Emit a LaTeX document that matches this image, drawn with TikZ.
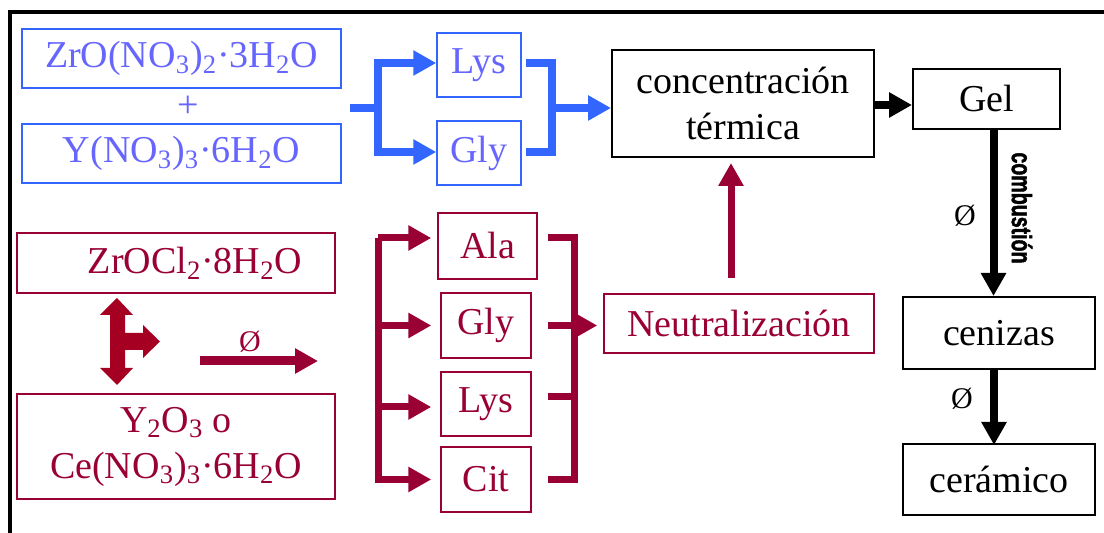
\documentclass[tikz,border=0pt]{standalone}
\usepackage{fontspec}
\setmainfont{Liberation Serif}
\newfontfamily\combfont[FakeStretch=0.7, FakeBold=1.5]{Liberation Sans}
\usetikzlibrary{arrows.meta, positioning}
\definecolor{arrblue}{RGB}{51,102,255}
\definecolor{txtblue}{RGB}{102,102,255}
\definecolor{crim}{RGB}{153,0,51}
\definecolor{crimbright}{RGB}{165,0,33}

\begin{document}
\begin{tikzpicture}[x=0.5pt, y=-0.5pt, font=\fontsize{19}{23}\selectfont]
    \tikzstyle{bluebox} = [rectangle, draw=arrblue, line width=0.75pt, text=txtblue, inner sep=0pt, align=center]
    \tikzstyle{redbox} = [rectangle, draw=crim, line width=0.75pt, text=crim, inner sep=0pt, align=center]
    \tikzstyle{blackbox} = [rectangle, draw=black, line width=1pt, inner sep=0pt, align=center]
    \tikzstyle{bluearrow} = [draw=arrblue, line width=4pt, -{Triangle[length=11.5pt,width=12pt]}]
    \tikzstyle{blueline} = [draw=arrblue, line width=4pt]
    \tikzstyle{redarrow} = [draw=crim, line width=3.5pt, -{Triangle[length=11.5pt,width=12pt]}]
    \tikzstyle{redline} = [draw=crim, line width=3.5pt]
    \tikzstyle{blackarrow} = [draw=black, line width=4pt, -{Triangle[length=11.5pt,width=12pt]}]
    \tikzstyle{phi} = [inner sep=0pt, font=\fontsize{15}{15}\selectfont]

    \useasboundingbox (0,0) rectangle (1104,533);
    \draw[line width=2pt] (10,540) -- (10,12) -- (1110,12);

    \node (bz) [bluebox, minimum width=159.5pt, minimum height=29.5pt] at (181.5,58.5) {ZrO(NO\textsubscript{3})\textsubscript{2}·3H\textsubscript{2}O};
    \node (plus) [text=txtblue, inner sep=0pt] at (188,107) {+};
    \node (by) [bluebox, minimum width=159.5pt, minimum height=29.5pt] at (181.5,153.5) {Y(NO\textsubscript{3})\textsubscript{3}·6H\textsubscript{2}O};
    \node (lysb) [bluebox, minimum width=42pt, minimum height=32pt] at (479,65) {Lys};
    \node (glyb) [bluebox, minimum width=42pt, minimum height=32pt] at (479,153) {Gly};
    \node (concen) [blackbox, minimum width=131pt, minimum height=53.5pt] at (743,103.5) {concentración\\térmica};
    \node (gel) [blackbox, minimum width=73.5pt, minimum height=30pt] at (986.5,99) {Gel};
    \node (cen) [blackbox, minimum width=96pt, minimum height=36pt] at (999,333) {cenizas};
    \node (cer) [blackbox, minimum width=96pt, minimum height=35.5pt, below=36.5pt of cen] {cerámico};

    \node (rz) [redbox, minimum width=159pt, minimum height=30pt] at (176,263) {\hspace*{19pt}ZrOCl\textsubscript{2}·8H\textsubscript{2}O};
    \node (ry) [redbox, minimum width=159pt, minimum height=52.5pt] at (176,446.5) {Y\textsubscript{2}O\textsubscript{3} o\\Ce(NO\textsubscript{3})\textsubscript{3}·6H\textsubscript{2}O};
    \node (ala) [redbox, minimum width=49.5pt, minimum height=33pt] at (487.5,246) {Ala};
    \node (glyr) [redbox, minimum width=45pt, minimum height=32.5pt] at (486,325.5) {Gly};
    \node (lysr) [redbox, minimum width=45pt, minimum height=32pt] at (486,404) {Lys};
    \node (cit) [redbox, minimum width=45pt, minimum height=32.5pt] at (486,479.5) {Cit};
    \node (neutral) [redbox, minimum width=135pt, minimum height=29.5pt] at (739,323.5) {Neutralización};

    \coordinate (bin) at (350,108);
    \coordinate (bfork) at (378,108);
    \coordinate (bjoin) at (552,108);
    \draw [blueline] (bin) -- (bfork);
    \draw [bluearrow] (bfork) |- ([yshift=1pt]lysb.west);
    \draw [bluearrow] (bfork) |- ([yshift=0.5pt]glyb.west);
    \draw [blueline] ([xshift=2pt,yshift=1pt]lysb.east) -| (bjoin) |- ([xshift=2pt,yshift=0.5pt]glyb.east);
    \draw [bluearrow] (bjoin) -- (bjoin -| concen.west);
    \draw [blackarrow] (concen.east |- 0,105) -- (gel.west |- 0,105);
    \draw [blackarrow] ([xshift=3.5pt]gel.south) -- ([xshift=3.5pt]gel.south |- cen.north);
    \draw [blackarrow] ([xshift=-2.5pt]cen.south) -- ([xshift=-2.5pt,yshift=-1pt]cen.south |- cer.north);
    \node (comb) [rotate=-90, inner sep=0pt, font=\combfont\bfseries\fontsize{14}{14}\selectfont] at (1022,208) {combustión};
    \node (phia) [phi] at (965,216) {Ø};
    \node (phib) [phi] at (962,399) {Ø};

    \fill[crimbright] (117,298) -- (133,315) -- (125,315) -- (125,333) -- (143,333) -- (143,325) -- (160,341.5) -- (143,358) -- (143,350) -- (125,350) -- (125,368) -- (133,368) -- (117,385) -- (100,368) -- (110,368) -- (110,315) -- (100,315) -- cycle;
    \coordinate (rs) at (200,361);
    \coordinate (re) at (318,361);
    \draw [redarrow, line width=4.5pt] (rs) -- (re);
    \node (phic) [phi, text=crim] at (250,342) {Ø};

    \coordinate (rl) at (378,0);
    \coordinate (rr) at (574,0);
    \draw [redarrow, shorten >=3pt] (rl |- cit.west) -- (rl |- ala.west) ++(0,-8) -- ([yshift=4pt]ala.west);
    \draw [redarrow, shorten >=4.5pt] (rl |- ala.west) ++(0,-8) -- (rl |- cit.west) -- (cit.west);
    \draw [redarrow, shorten >=4.5pt] (rl |- glyr.west) -- (glyr.west);
    \draw [redarrow, shorten >=4.5pt] (rl |- 0,407) -- (lysr.west |- 0,407);
    \draw [redline] ([xshift=5pt,yshift=4pt]ala.east) -| (rr |- cit.east) -- ([xshift=8pt]cit.east);
    \draw [redline] ([xshift=8pt]glyr.east) -- (rr |- glyr.east);
    \draw [redline] ([xshift=8pt]lysr.east |- 0,397) -- (rr |- 0,397);
    \draw [redarrow, shorten >=3pt] (rr |- glyr.east) -- (rr |- glyr.east -| neutral.west);
    \draw [redarrow, shorten <=7.5pt, shorten >=2.5pt] ([xshift=-4pt]neutral.north) -- ([xshift=-4pt]neutral.north |- concen.south);
\end{tikzpicture}
\end{document}
